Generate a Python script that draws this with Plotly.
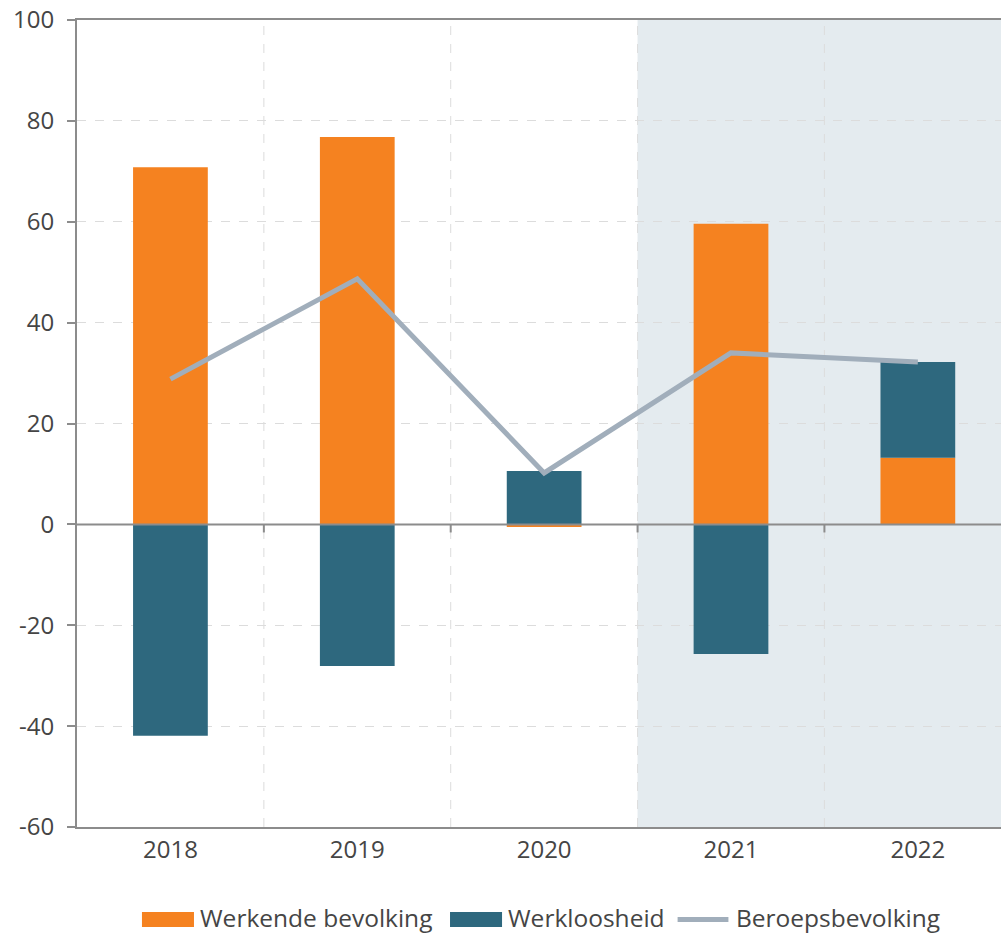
import plotly.graph_objects as go

years = ["2018", "2019", "2020", "2021", "2022"]
werkende = [70.8, 76.8, -0.5, 59.6, 13.2]
werkloosheid = [-41.9, -28.1, 10.6, -25.7, 19.0]
beroeps = [28.8, 48.7, 10.2, 34.0, 32.2]
y_ticks = [-60, -40, -20, 0, 20, 40, 60, 80, 100]
series_names = ["Werkende bevolking", "Werkloosheid", "Beroepsbevolking"]

xpos = list(range(len(years)))
ORANGE = "#F58220"
TEAL = "#2E687E"
LINE = "#A1AEBB"
GRID = "#DCDCDC"
AXIS = "#8C8C8C"
TEXT = "#454545"
FONT = "Open Sans"

fig = go.Figure()
fig.add_trace(go.Bar(x=xpos, y=werkende, name=series_names[0],
                     marker=dict(color=ORANGE, line=dict(width=0)), width=0.4))
fig.add_trace(go.Bar(x=xpos, y=werkloosheid, name=series_names[1],
                     marker=dict(color=TEAL, line=dict(width=0)), width=0.4))
fig.add_trace(go.Scatter(x=xpos, y=beroeps, name=series_names[2], mode="lines",
                         line=dict(color=LINE, width=5)))

shapes = []
shapes.append(dict(type="rect", xref="x", yref="paper", x0=2.5, x1=4.6, y0=0, y1=1,
                   fillcolor="#E4EBEF", line=dict(width=0), layer="below"))
for b in [0.5, 1.5, 2.5, 3.5]:
    shapes.append(dict(type="line", xref="x", yref="paper", x0=b, x1=b, y0=0, y1=1,
                       line=dict(color=GRID, width=1, dash="dash"), layer="below"))
    shapes.append(dict(type="line", xref="x", yref="y", x0=b, x1=b, y0=0, y1=-1.6,
                       line=dict(color=AXIS, width=2), layer="above"))
shapes.append(dict(type="line", xref="paper", yref="y", x0=0, x1=1, y0=0, y1=0,
                   line=dict(color=AXIS, width=2), layer="above"))

# custom legend (swatches + labels)
leg_y0, leg_y1, leg_mid = -0.1053, -0.1239, -0.1121
shapes.append(dict(type="rect", xref="paper", yref="paper", x0=0.0703, x1=0.1266,
                   y0=leg_y0, y1=leg_y1, fillcolor=ORANGE, line=dict(width=0)))
shapes.append(dict(type="rect", xref="paper", yref="paper", x0=0.4037, x1=0.4600,
                   y0=leg_y0, y1=leg_y1, fillcolor=TEAL, line=dict(width=0)))
shapes.append(dict(type="line", xref="paper", yref="paper", x0=0.6500, x1=0.7050,
                   y0=-0.1146, y1=-0.1146, line=dict(color=LINE, width=5)))

annotations = []
for name, xp in zip(series_names, [0.1320, 0.4654, 0.7121]):
    annotations.append(dict(text=name, xref="paper", yref="paper", x=xp, y=leg_mid,
                            xanchor="left", yanchor="middle", showarrow=False,
                            borderpad=0,
                            font=dict(family=FONT, size=24.5, color=TEXT)))

fig.update_layout(
    width=1001, height=934,
    margin=dict(l=77, r=0, t=20, b=107),
    barmode="relative",
    plot_bgcolor="white", paper_bgcolor="white",
    font=dict(family=FONT, size=24, color=TEXT),
    shapes=shapes,
    annotations=annotations,
    showlegend=False,
    xaxis=dict(range=[-0.5, 4.445], tickmode="array", tickvals=xpos, ticktext=years,
               showgrid=False, zeroline=False, showline=True, mirror=True,
               linecolor=AXIS, linewidth=2, ticks="", tickfont=dict(size=24)),
    yaxis=dict(range=[-60, 100], tickmode="array", tickvals=y_ticks,
               ticktext=[str(v) for v in y_ticks],
               showgrid=True, gridcolor=GRID, griddash="dash", gridwidth=1,
               zeroline=False, showline=True, linecolor=AXIS, linewidth=2,
               ticks="outside", ticklen=8, tickcolor=AXIS, tickwidth=2,
               ticklabelstandoff=8, tickfont=dict(size=24)),
)

fig.write_html("out.html", config={"displayModeBar": False},
               post_script="document.body.style.margin='0';")
